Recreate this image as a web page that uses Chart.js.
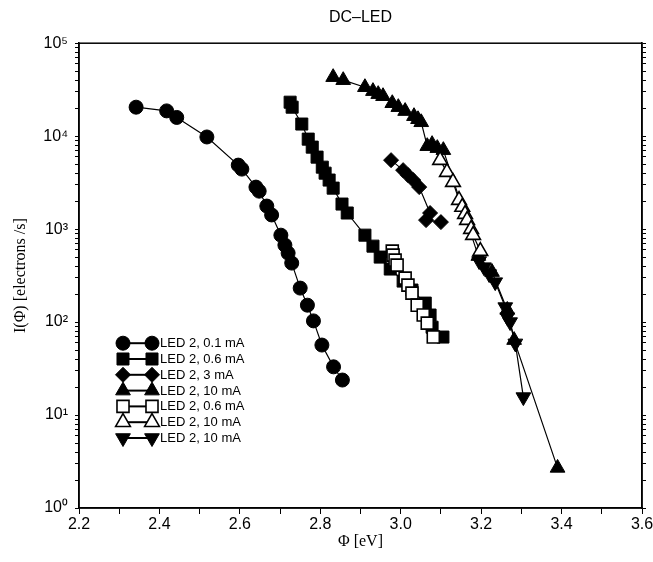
<!DOCTYPE html>
<html><head><meta charset="utf-8">
<script src="https://cdn.jsdelivr.net/npm/chart.js@4/dist/chart.umd.min.js"></script>
<style>html,body{margin:0;padding:0;background:#fff}#wrap{width:653px;height:562px}</style>
</head><body><div id="wrap"><canvas id="c" width="653" height="562"></canvas></div>
<script>
// ---- data ----
const seriesLabels = ['LED 2, 0.1 mA','LED 2, 0.6 mA','LED 2, 3 mA','LED 2, 10 mA','LED 2, 0.6 mA','LED 2, 10 mA','LED 2, 10 mA'];

const circ01_x = [2.342,2.418,2.443,2.518,2.596,2.605,2.640,2.648,2.667,2.679,2.702,2.712,2.720,2.729,2.750,2.768,2.783,2.804,2.833,2.855];
const circ01_y = [20500,18700,15900,9800,4880,4420,2830,2560,1770,1420,861,673,552,431,232,152,103,56.6,33,23.8];

const sq06_x = [2.725,2.730,2.754,2.770,2.780,2.792,2.805,2.812,2.822,2.832,2.854,2.867,2.911,2.931,2.949,2.974,3.006,3.028,3.061,3.073,3.078,3.105];
const sq06_y = [23200,20500,13500,9290,7620,5950,4640,4000,3370,2760,1860,1490,861,656,500,372,276,221,160,119,88,69];

const dia3_x = [2.976,3.006,3.018,3.031,3.046,3.073,3.063,3.100];
const dia3_y = [5520,4310,3810,3370,2830,1490,1250,1190];

const tri10_x = [2.832,2.857,2.911,2.931,2.944,2.956,2.979,2.994,3.011,3.033,3.043,3.051,3.066,3.078,3.091,3.106,3.193,3.227,3.265,3.282,3.390];
const tri10_y = [43100,40000,33600,30500,28300,26900,22600,20500,18600,16400,15200,14100,7800,8200,7430,7070,513,345,135,64,2.7];

const osq06_x = [2.979,2.981,2.986,2.991,3.011,3.018,3.028,3.041,3.056,3.066,3.081];
const osq06_y = [580,525,464,410,297,250,205,152,119,97.5,69];

const otri10_x = [3.098,3.115,3.130,3.145,3.153,3.160,3.165,3.175,3.180,3.198];
const otri10_y = [5520,4100,3200,2050,1730,1450,1250,1000,861,580];

const dtri10_x = [3.195,3.207,3.220,3.235,3.260,3.265,3.272,3.285,3.305];
const dtri10_y = [453,390,328,269,145,113,100,59,15.6];

const xTickValues = [2.2,2.3,2.4,2.5,2.6,2.7,2.8,2.9,3.0,3.1,3.2,3.3,3.4,3.5,3.6];
const xTickLabels = ['2.2','','2.4','','2.6','','2.8','','3.0','','3.2','','3.4','','3.6'];
const yDecades = [0,1,2,3,4,5];
const yTickLabels = ['10⁰','10¹','10²','10³','10⁴','10⁵'];

// ---- styles ----
const styles = [
  {pointStyle:'circle',  radius:7,   rotation:0,   fill:'#000'},
  {pointStyle:'rect',    radius:8.5, rotation:0,   fill:'#000'},
  {pointStyle:'rectRot', radius:7.5, rotation:0,   fill:'#000'},
  {pointStyle:'triangle',radius:8.5, rotation:0,   fill:'#000'},
  {pointStyle:'rect',    radius:8.5, rotation:0,   fill:'#fff'},
  {pointStyle:'triangle',radius:8.5, rotation:0,   fill:'#fff'},
  {pointStyle:'triangle',radius:8.5, rotation:180, fill:'#000'}
];
const xs = [circ01_x, sq06_x, dia3_x, tri10_x, osq06_x, otri10_x, dtri10_x];
const ys = [circ01_y, sq06_y, dia3_y, tri10_y, osq06_y, otri10_y, dtri10_y];

const datasets = xs.map((xa, i) => ({
  label: seriesLabels[i],
  data: xa.map((x, j) => ({x: x, y: ys[i][j]})),
  showLine: true,
  borderColor: '#000',
  borderWidth: 1.2,
  pointStyle: styles[i].pointStyle,
  pointRadius: styles[i].radius,
  pointHoverRadius: styles[i].radius,
  pointRotation: styles[i].rotation,
  pointBackgroundColor: styles[i].fill,
  pointBorderColor: '#000',
  pointBorderWidth: styles[i].fill === '#fff' ? 1.6 : 1,
  order: -i,
  tension: 0
}));

const logTicks = [];
yDecades.forEach(d => {
  if (d < 5) { for (let m = 1; m <= 9; m++) logTicks.push(m * Math.pow(10, d)); }
  else logTicks.push(Math.pow(10, d));
});

function yLabel(v) {
  const e = Math.log10(v);
  const r = Math.round(e);
  return Math.abs(e - r) < 1e-9 ? yTickLabels[yDecades.indexOf(r)] : '';
}

function drawMarker(ctx, st, x, y) {
  const r = st.radius;
  ctx.save();
  ctx.beginPath();
  if (st.pointStyle === 'circle') {
    ctx.arc(x, y, r, 0, Math.PI * 2);
  } else if (st.pointStyle === 'rect') {
    const h = r * Math.SQRT1_2;
    ctx.rect(x - h, y - h, 2 * h, 2 * h);
  } else if (st.pointStyle === 'rectRot') {
    ctx.moveTo(x, y - r); ctx.lineTo(x + r, y); ctx.lineTo(x, y + r); ctx.lineTo(x - r, y);
  } else {
    let a = st.rotation * Math.PI / 180;
    for (let k = 0; k < 3; k++) {
      const px = x + Math.sin(a) * r, py = y - Math.cos(a) * r;
      if (k === 0) ctx.moveTo(px, py); else ctx.lineTo(px, py);
      a += 2 * Math.PI / 3;
    }
  }
  ctx.closePath();
  ctx.fillStyle = st.fill;
  ctx.fill();
  ctx.lineWidth = st.fill === '#fff' ? 1.6 : 1;
  ctx.strokeStyle = '#000';
  ctx.stroke();
  ctx.restore();
}

const legendPlugin = {
  id: 'sketchLegend',
  afterDatasetsDraw(chart) {
    const ctx = chart.ctx, a = chart.chartArea;
    const x0 = a.left + 44, x1 = a.left + 73, tx = a.left + 81;
    const y0 = a.top + 300, dy = 15.8;
    seriesLabels.forEach((lab, i) => {
      const y = y0 + i * dy;
      ctx.save();
      ctx.strokeStyle = '#000'; ctx.lineWidth = 2;
      ctx.beginPath(); ctx.moveTo(x0, y); ctx.lineTo(x1, y); ctx.stroke();
      ctx.restore();
      drawMarker(ctx, styles[i], x0, y);
      drawMarker(ctx, styles[i], x1, y);
      ctx.save();
      ctx.fillStyle = '#000';
      ctx.font = '13px "Liberation Sans", Arial, sans-serif';
      ctx.textBaseline = 'middle'; ctx.textAlign = 'left';
      ctx.fillText(lab, tx, y + 0.5);
      ctx.restore();
    });
  },
  afterDraw(chart) {
    const ctx = chart.ctx, a = chart.chartArea;
    ctx.save();
    ctx.strokeStyle = '#000'; ctx.lineWidth = 1.5;
    ctx.strokeRect(a.left, a.top, a.right - a.left, a.bottom - a.top);
    ctx.restore();
  }
};

const tickFont = {family: '"Liberation Sans", Arial, sans-serif', size: 16};
const serif = {family: '"Liberation Serif", "Times New Roman", serif', size: 16};

new Chart(document.getElementById('c'), {
  type: 'scatter',
  data: {datasets},
  plugins: [legendPlugin],
  options: {
    responsive: false,
    devicePixelRatio: 1,
    animation: false,
    layout: {padding: {left: 0, right: 0, top: 0, bottom: 0}},
    plugins: {
      legend: {display: false},
      tooltip: {enabled: false},
      title: {
        display: true, text: 'DC–LED', color: '#000', fullSize: false,
        font: {family: '"Liberation Sans", Arial, sans-serif', size: 16, weight: 'normal'},
        padding: {top: 8, bottom: 16}
      }
    },
    scales: {
      x: {
        type: 'linear', position: 'bottom', min: 2.2, max: 3.6,
        afterBuildTicks: s => { s.ticks = xTickValues.map(v => ({value: v})); },
        afterFit: s => { s.height = 54; s.paddingLeft = 0; s.paddingRight = 0; },
        ticks: {
          autoSkip: false, maxRotation: 0, color: '#000', font: tickFont, padding: 1,
          callback: (v, idx) => xTickLabels[idx]
        },
        grid: {drawOnChartArea: false, drawTicks: true, tickLength: 6, color: '#000', tickWidth: 1},
        border: {display: true, color: '#000', width: 1.5},
        title: {display: true, text: 'Φ [eV]', color: '#000', font: serif, padding: {top: 0, bottom: 11}}
      },
      y: {
        type: 'logarithmic', position: 'left', min: 1, max: 100000,
        afterBuildTicks: s => { s.ticks = logTicks.map(v => ({value: v})); },
        afterFit: s => { s.width = 79; },
        ticks: {autoSkip: false, color: '#000', font: tickFont, padding: 7, callback: v => yLabel(v)},
        grid: {drawOnChartArea: false, drawTicks: true, tickLength: 4, color: '#000', tickWidth: 1},
        border: {display: true, color: '#000', width: 1.5},
        title: {display: true, text: 'I(Φ) [electrons /s]', color: '#000', font: serif, padding: {top: 11, bottom: 0}}
      },
      y2: {
        type: 'logarithmic', position: 'right', min: 1, max: 100000,
        afterBuildTicks: s => { s.ticks = logTicks.map(v => ({value: v})); },
        afterFit: s => { s.width = 11; },
        ticks: {display: false},
        grid: {drawOnChartArea: false, drawTicks: true, tickLength: 4, color: '#000', tickWidth: 1},
        border: {display: true, color: '#000', width: 1.5}
      }
    }
  }
});
</script></body></html>
